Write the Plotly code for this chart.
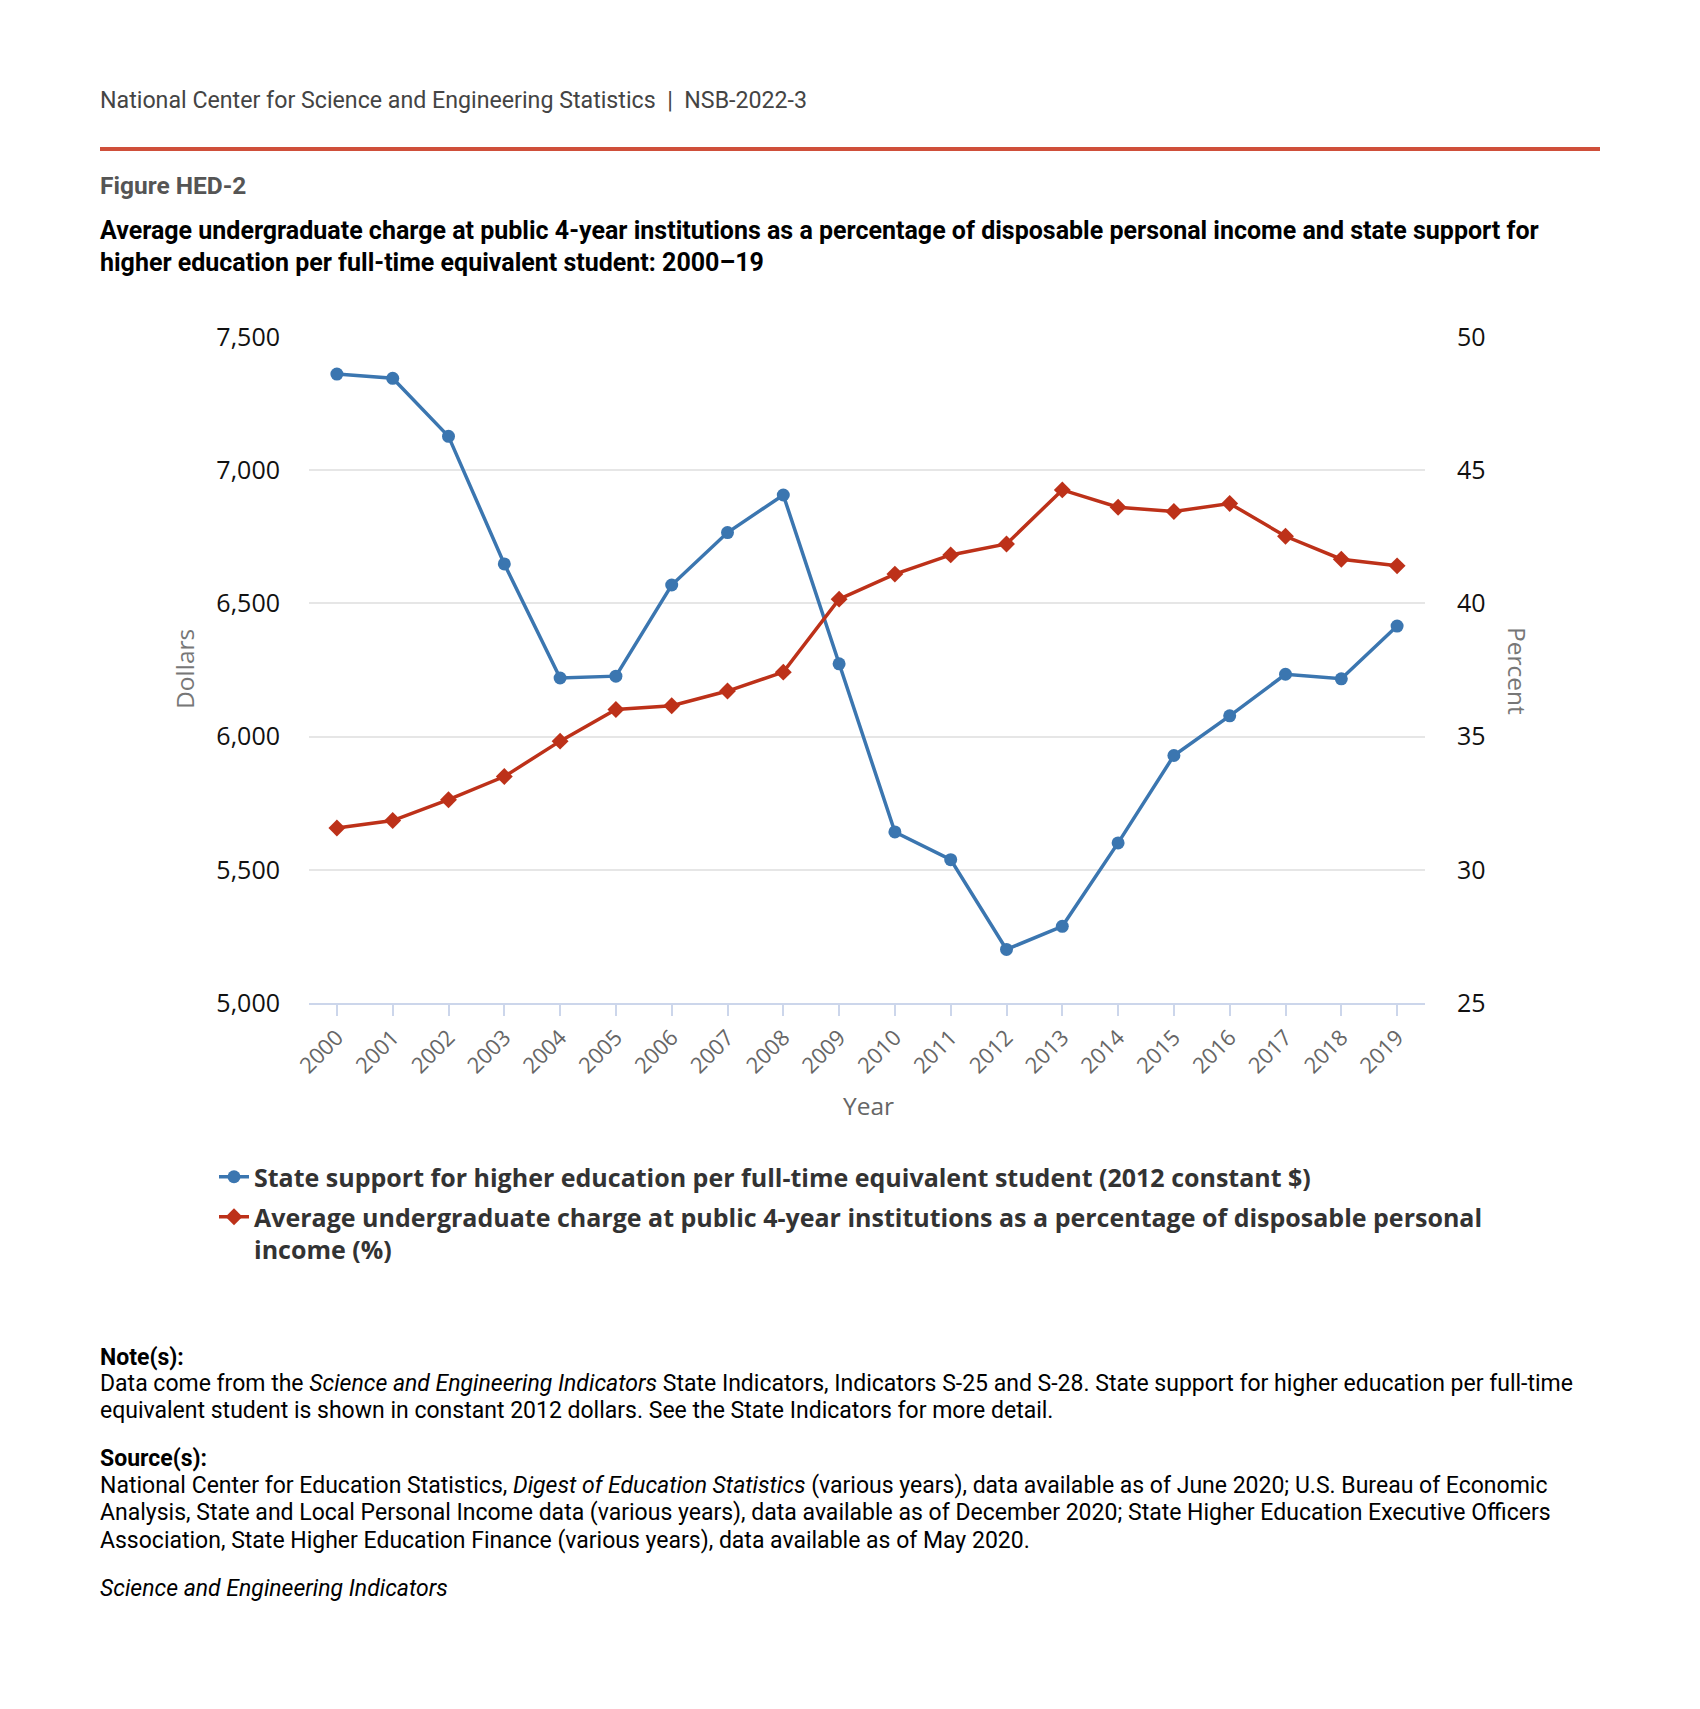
import plotly.graph_objects as go

# ---------------- data ----------------
years = list(range(2000, 2020))
year_labels = [str(y) for y in years]
state_support = [7361, 7345, 7127, 6648, 6220, 6227, 6569, 6766, 6907, 6273,
                 5642, 5538, 5201, 5288, 5601, 5929, 6078, 6234, 6217, 6415]
charge_pct = [31.57, 31.85, 32.63, 33.50, 34.83, 36.02, 36.16, 36.71, 37.42, 40.16,
              41.10, 41.82, 42.23, 44.26, 43.61, 43.45, 43.75, 42.52, 41.66, 41.41]
left_ticks = [5000, 5500, 6000, 6500, 7000, 7500]
left_ticktext = ["5,000", "5,500", "6,000", "6,500", "7,000", "7,500"]
right_ticks = [25, 30, 35, 40, 45, 50]

name_blue = "State support for higher education per full-time equivalent student (2012 constant $)"
name_red = ("Average undergraduate charge at public 4-year institutions as a percentage of disposable personal"
            "<br>income (%)")

BLUE = "#3b76b0"
RED = "#bd3119"

# ---------------- layout geometry ----------------
W, H = 1700, 1709
L, R, T, B = 301, 1417, 329, 995


def px(x):
    return (x - L) / (R - L)


def py(y):
    return (B - y) / (B - T)


fig = go.Figure()
fig.add_trace(go.Scatter(
    x=years, y=state_support, name=name_blue, mode="lines+markers",
    legendgroup="a",
    line=dict(color=BLUE, width=3.5),
    marker=dict(symbol="circle", size=13, color=BLUE),
    yaxis="y"))
fig.add_trace(go.Scatter(
    x=years, y=charge_pct, name=name_red, mode="lines+markers",
    legendgroup="b",
    line=dict(color=RED, width=3.5),
    marker=dict(symbol="diamond", size=13, color=RED),
    yaxis="y2"))

fig.update_layout(
    width=W, height=H, autosize=False,
    margin=dict(l=L, r=W - R, t=T, b=H - B, pad=0),
    paper_bgcolor="white", plot_bgcolor="white",
    font=dict(family="Open Sans", color="#333"),
    showlegend=True,
    legend=dict(
        x=px(206), y=py(1146), xanchor="left", yanchor="top",
        orientation="v", valign="top",
        font=dict(family="Open Sans", size=25, color="#333", weight="bold"),
        tracegroupgap=4.5, itemwidth=30,
        bgcolor="rgba(0,0,0,0)",
    ),
    xaxis=dict(
        range=[1999.5, 2019.5],
        tickmode="array", tickvals=years, ticktext=year_labels,
        tickangle=-45,
        tickfont=dict(family="Open Sans", size=22, color="#666"),
        showgrid=False, zeroline=False,
        showline=True, linecolor="#ccd6eb", linewidth=2,
        ticks="outside", ticklen=11, tickcolor="#ccd6eb", tickwidth=1.5,
        fixedrange=True,
    ),
    yaxis=dict(
        range=[5000, 7500],
        tickmode="array", tickvals=left_ticks, ticktext=left_ticktext,
        tickfont=dict(family="Open Sans", size=25, color="#111"),
        showgrid=True, gridcolor="#e6e6e6", gridwidth=1.5,
        zeroline=False, showline=False, ticks="",
        ticklabelstandoff=28,
    ),
    yaxis2=dict(
        range=[25, 50], overlaying="y", side="right",
        tickmode="array", tickvals=right_ticks,
        tickfont=dict(family="Open Sans", size=25, color="#111"),
        showgrid=False, zeroline=False, showline=False, ticks="",
        ticklabelstandoff=31,
    ),
)

# header rule
fig.add_shape(type="line", xref="paper", yref="paper",
              x0=px(92), x1=px(1592), y0=py(141), y1=py(141),
              line=dict(color="#cf4f3a", width=4))


def text(x, y, s, size, color="#000", family="Roboto", anchor="left", angle=0):
    fig.add_annotation(xref="paper", yref="paper", x=px(x), y=py(y), text=s,
                       showarrow=False, xanchor=anchor, yanchor="middle",
                       textangle=angle,
                       font=dict(family=family, size=size, color=color))


# header texts
text(90, 92, "National Center for Science and Engineering Statistics&nbsp;&nbsp;|&nbsp;&nbsp;NSB-2022-3", 23.2, "#444")
text(90, 178, "<b>Figure HED-2</b>", 24.5, "#555")
text(90, 222, "<b>Average undergraduate charge at public 4-year institutions as a percentage of disposable "
     "personal income and state support for</b>", 25, "#000")
text(90, 255, "<b>higher education per full-time equivalent student: 2000\u201319</b>", 25, "#000")

# axis titles
text(176, 661, "Dollars", 24.5, "#777", "Open Sans", "center", -90)
text(1510, 663, "Percent", 24.5, "#777", "Open Sans", "center", 90)
text(860, 1097, "Year", 24.5, "#666", "Open Sans", "center")

# notes
NS = 23
text(90, 1349, "<b>Note(s):</b>", NS)
text(90, 1375, "Data come from the <i>Science and Engineering Indicators</i> State Indicators, Indicators S-25 and "
     "S-28. State support for higher education per full-time", NS)
text(90, 1402, "equivalent student is shown in constant 2012 dollars. See the State Indicators for more detail.", NS)
text(90, 1450, "<b>Source(s):</b>", NS)
text(90, 1477, "National Center for Education Statistics, <i>Digest of Education Statistics</i> (various years), data "
     "available as of June 2020; U.S. Bureau of Economic", NS)
text(90, 1504, "Analysis, State and Local Personal Income data (various years), data available as of December 2020; "
     "State Higher Education Executive Officers", NS)
text(90, 1532, "Association, State Higher Education Finance (various years), data available as of May 2020.", NS)
text(90, 1580, "<i>Science and Engineering Indicators</i>", NS)

fig.write_html("out.html")
